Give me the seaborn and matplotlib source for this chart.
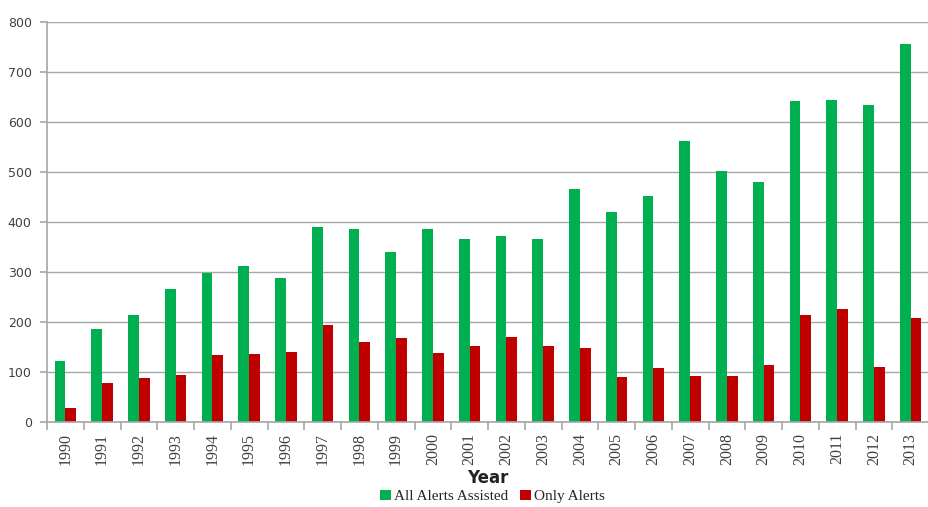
import matplotlib
matplotlib.use("Agg")
import matplotlib.pyplot as plt
from matplotlib.patches import Patch
from matplotlib.ticker import FixedLocator
import numpy as np
import pandas as pd
import seaborn as sns

years = [str(y) for y in range(1990, 2014)]
all_alerts_assisted = [121, 186, 213, 265, 298, 311, 288, 389, 385, 340, 385, 365,
                       372, 365, 465, 420, 452, 562, 502, 479, 641, 644, 634, 756]
only_alerts = [27, 78, 87, 93, 133, 135, 139, 193, 159, 167, 137, 152,
               169, 152, 147, 89, 108, 92, 92, 113, 214, 225, 110, 207]
series_names = ["All Alerts Assisted", "Only Alerts"]
series_colors = ["#00B050", "#C00000"]

df = pd.DataFrame({
    "Year": years * 2,
    "Count": all_alerts_assisted + only_alerts,
    "Series": [series_names[0]] * len(years) + [series_names[1]] * len(years),
})

sns.set_theme(style="white")
fig = plt.figure(figsize=(9.29, 5.07), dpi=100)
ax = fig.add_axes([0.0506, 0.1677, 0.9494, 0.789])

sns.barplot(data=df, x="Year", y="Count", hue="Series", order=years,
            hue_order=series_names, palette=series_colors, width=0.58,
            gap=0, saturation=1, linewidth=0, legend=False, ax=ax)

ax.set_ylim(0, 800)
ax.set_xlim(-0.5, len(years) - 0.5)
ax.set_yticks(range(0, 801, 100))
ax.yaxis.grid(True, color="#A6A6A6", linewidth=1.0)
ax.set_axisbelow(True)

for side in ("top", "right"):
    ax.spines[side].set_visible(False)
for side in ("left", "bottom"):
    ax.spines[side].set_color("#A6A6A6")
    ax.spines[side].set_linewidth(1.2)

# tick marks sit between the year groups
ax.tick_params(axis="x", which="major", length=0, pad=8)
ax.xaxis.set_minor_locator(FixedLocator(np.arange(-0.5, len(years), 1.0)))
ax.tick_params(axis="x", which="minor", length=6, color="#A6A6A6", width=1.2,
               direction="out", bottom=True)
ax.tick_params(axis="y", which="major", length=5, color="#A6A6A6", width=1.2,
               left=True, pad=6, labelsize=9, labelcolor="#404040")

for lbl in ax.get_xticklabels():
    lbl.set_rotation(90)
    lbl.set_fontfamily("Liberation Serif")
    lbl.set_fontsize(11.5)
    lbl.set_color("#404040")

ax.set_ylabel("")
ax.set_xlabel("Year", fontsize=12, fontweight="bold", color="#222222", labelpad=3)

handles = [Patch(facecolor=c, edgecolor="none") for c in series_colors]
fig.legend(handles, series_names, loc="center", bbox_to_anchor=(0.53, 0.021),
           ncol=2, frameon=False, handlelength=0.7, handleheight=0.7,
           handletextpad=0.2, columnspacing=0.8, borderpad=0.1,
           prop={"family": "Liberation Serif", "size": 11})

fig.savefig("out.png", dpi=100)
